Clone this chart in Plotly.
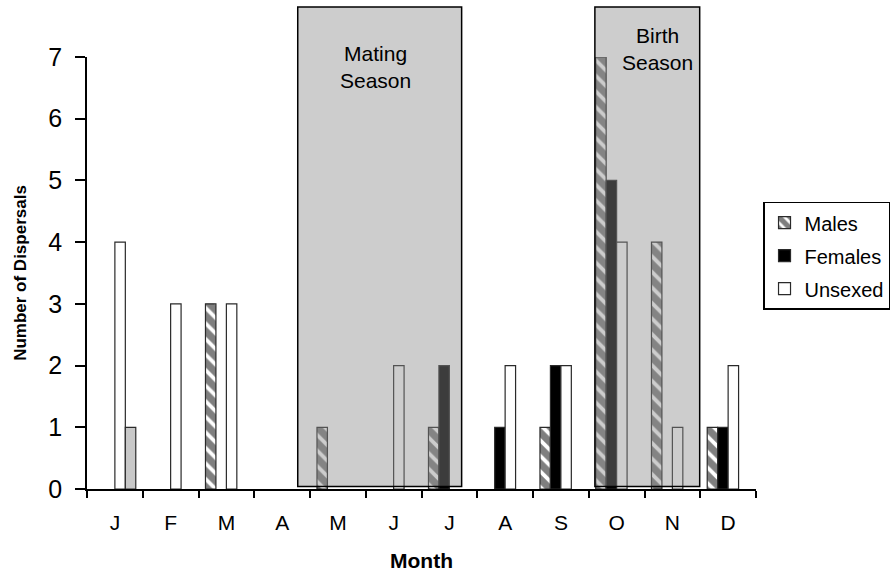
import plotly.graph_objects as go

months = ["J", "F", "M", "A", "M", "J", "J", "A", "S", "O", "N", "D"]
males = [None, None, 3, None, 1, None, 1, None, 1, 7, 4, 1]
females = [None, None, None, None, None, None, 2, 1, 2, 5, None, 1]
unsexed = [4, 3, 3, None, None, 2, None, 2, 2, 4, 1, 2]
other = [1, None, None, None, None, None, None, None, None, None, None, None]

seasons = ["Mating<br>Season", "Birth<br>Season"]
season_start = [3.28, 8.61]
season_end = [6.22, 10.49]
season_label_x = [4.68, 9.74]
season_label_y = [0.977, 1.018]

FONT = "Liberation Sans, Arial, sans-serif"
x = list(range(len(months)))
outline = dict(color="#2a2a2a", width=1.2)

fig = go.Figure()
fig.add_trace(go.Bar(
    x=x, y=males, name="Males", legendgroup="m",
    marker=dict(color="white", line=outline,
                pattern=dict(shape="\\", fgcolor="black", bgcolor="white",
                             size=11, solidity=0.65, fillmode="overlay")),
))
fig.add_trace(go.Bar(
    x=x, y=females, name="Females", legendgroup="f",
    marker=dict(color="black", line=outline),
))
fig.add_trace(go.Bar(
    x=x, y=unsexed, name="Unsexed", legendgroup="u",
    marker=dict(color="white", line=outline),
))
fig.add_trace(go.Bar(
    x=x, y=other, name="Other", showlegend=False, legendgroup="o",
    marker=dict(color="#c8c8c8", line=outline),
))

shapes = []
annotations = []
for i in range(len(seasons)):
    shapes.append(dict(
        type="rect", xref="x", yref="paper",
        x0=season_start[i], x1=season_end[i], y0=0.006, y1=1.116,
        fillcolor="rgba(140,140,140,0.43)",
        line=dict(color="black", width=1.5), layer="above",
    ))
    annotations.append(dict(
        x=season_label_x[i], y=season_label_y[i], xref="x", yref="paper",
        text=seasons[i], showarrow=False,
        font=dict(family=FONT, size=21, color="black"),
        xanchor="center", yanchor="middle",
    ))

fig.update_layout(
    width=891, height=572,
    margin=dict(l=87, r=135, t=57, b=83, autoexpand=False),
    paper_bgcolor="white", plot_bgcolor="white",
    barmode="group", bargap=0.25, bargroupgap=0,
    font=dict(family=FONT, color="black"),
    shapes=shapes, annotations=annotations,
    showlegend=True,
    legend=dict(
        x=1.0105, y=0.665, xanchor="left", yanchor="top",
        bordercolor="black", borderwidth=1.5, bgcolor="white",
        font=dict(family=FONT, size=20, color="black"),
        itemwidth=30, tracegroupgap=4,
    ),
    xaxis=dict(
        range=[-0.5, 11.5], tickmode="array", tickvals=x, ticktext=months,
        ticks="", showgrid=False, zeroline=False,
        showline=True, linecolor="black", linewidth=2,
        tickfont=dict(family=FONT, size=21, color="black"),
        ticklabelstandoff=14,
        minor=dict(tickmode="array", tickvals=[v - 0.5 for v in range(len(months) + 1)],
                   ticks="outside", ticklen=7, tickwidth=2, tickcolor="black", showgrid=False),
        title=dict(text="<b>Month</b>", font=dict(family=FONT, size=21, color="black"),
                   standoff=20),
    ),
    yaxis=dict(
        range=[0, 7], tickmode="linear", tick0=0, dtick=1,
        ticks="outside", ticklen=10, tickwidth=1.5, tickcolor="black",
        showgrid=False, zeroline=False,
        showline=True, linecolor="black", linewidth=1.5,
        tickfont=dict(family=FONT, size=25, color="black"),
        ticklabelstandoff=8,
        title=dict(text="<b>Number of Dispersals</b>", font=dict(family=FONT, size=17, color="black"),
                   standoff=17),
    ),
)

fig.write_html("out.html")
